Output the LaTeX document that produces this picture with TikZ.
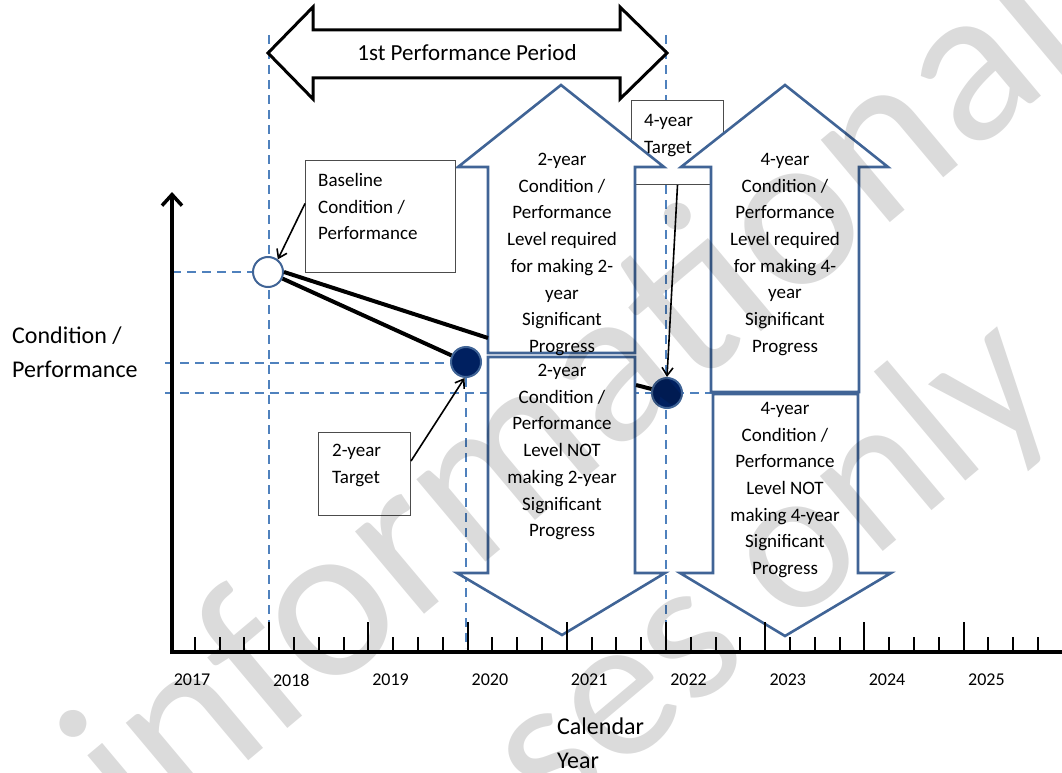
\documentclass[tikz,border=0pt]{standalone}
\usepackage{fontspec}
\setmainfont{Carlito}
\usepackage{xcolor}
\usepackage{tikz}
\usetikzlibrary{arrows,arrows.meta,positioning}

\definecolor{arrowblue}{RGB}{64,100,150}
\definecolor{dashblue}{RGB}{79,129,189}
\definecolor{dotnavy}{RGB}{0,32,96}

\tikzset{
	dashln/.style={dashblue, line width=1.6pt, dash pattern=on 9pt off 6pt},
	bigarrow/.style={draw=arrowblue, line width=2.6pt, fill=white, line join=miter},
	txtbox/.style={draw=black!70, line width=1pt, fill=white, inner sep=0pt},
	boxtext/.style={font=\fontsize{19}{26.7}\selectfont, align=left, inner sep=0pt},
	arrtext/.style={font=\fontsize{19}{26.7}\selectfont, align=center, inner sep=0pt},
	bigtext/.style={font=\fontsize{24}{34}\selectfont, align=left, inner sep=0pt},
	yeartext/.style={font=\fontsize{18}{20}\selectfont, inner sep=0pt},
	wmtext/.style={font=\fontsize{205}{205}\selectfont, text=black, text opacity=0.14, inner sep=0pt, rotate=40},
	tdot/.style={circle, draw=arrowblue, line width=2pt, fill=dotnavy, minimum size=30pt, inner sep=0pt},
	callout/.style={->, >={Straight Barb[length=8pt,width=11pt]}, line width=1.6pt},
	thickln/.style={line width=4pt},
}

\begin{document}
\begin{tikzpicture}[x=1pt,y=-1pt]
	\useasboundingbox (0,0) rectangle (1062,773);
	\clip (0,0) rectangle (1062,773);
	
	% Guides
	\draw[dashln] (269,35) -- (269,648);
	\draw[dashln] (666,35) -- (666,648);
	\draw[dashln] (466,378) -- (466,648);
	\draw[dashln] (172,272) -- (254,272);
	\draw[dashln] (165,363) -- (452,363);
	\draw[dashln] (165,393) -- (712,393);
	
	% 1st performance period
	\draw[line width=3pt, fill=white, line join=miter] (268,53) -- (313,7) -- (313,30) -- (620,30) -- (620,7) -- (667,53) -- (620,99) -- (620,78) -- (313,78) -- (313,99) -- cycle;
	\node[bigtext, font=\fontsize{23}{30}\selectfont] (period) at (467,53) {1st Performance Period};
	
	% 4-year target box (under the arrows)
	\node[txtbox, minimum width=92pt, minimum height=84pt, anchor=north west] (tgt4box) at (631,100) {};
	
	% 2-year arrows
	\draw[bigarrow] (488,353) -- (488,167) -- (458,167) -- (561,85) -- (664,167) -- (635,167) -- (635,353) -- cycle;
	\draw[bigarrow] (488,357) -- (635,357) -- (635,573) -- (665,573) -- (562,635) -- (457,573) -- (488,573) -- cycle;
	
	% 4-year arrows
	\draw[bigarrow] (711,392) -- (711,167) -- (681,167) -- (785,85) -- (888,167) -- (859,167) -- (859,392) -- cycle;
	\draw[bigarrow] (713,394) -- (858,394) -- (858,573) -- (891,573) -- (785,636) -- (680,573) -- (713,573) -- cycle;
	
	% Arrow texts
	\node[arrtext, anchor=north] (up2txt) at (562,153) {2-year\\Condition /\\Performance\\Level required\\for making 2-\\year\\Significant\\Progress};
	\node[arrtext, anchor=north] (down2txt) at (562,364) {2-year\\Condition /\\Performance\\Level NOT\\making 2-year\\Significant\\Progress};
	\node[arrtext, anchor=north] (up4txt) at (785,153) {4-year\\Condition /\\Performance\\Level required\\for making 4-\\year\\Significant\\Progress};
	\node[arrtext, anchor=north] (down4txt) at (785,402) {4-year\\Condition /\\Performance\\Level NOT\\making 4-year\\Significant\\Progress};
	\node[boxtext, anchor=north west] (tgt4txt) at (644,114) {4-year\\Target};
	
	% Boxes
	\node[txtbox, minimum width=150pt, minimum height=112pt, anchor=north west] (basebox) at (305,160) {};
	\node[boxtext, anchor=north west] (basetxt) at (318,173) {Baseline\\Condition /\\Performance};
	\node[txtbox, minimum width=92pt, minimum height=83pt, anchor=north west] (tgt2box) at (318,432) {};
	\node[boxtext, anchor=north west] (tgt2txt) at (332,444) {2-year\\Target};
	
	% Points
	\node[circle, draw=arrowblue, line width=2pt, fill=white, minimum size=30pt, inner sep=0pt] (base) at (268,272) {};
	\node[tdot] (dot2) at (466,362) {};
	\node[tdot] (dot4) at (667,393) {};
	
	% Progress lines
	\coordinate (up2edge) at (488,338);
	\coordinate (up2stem) at (636,385);
	\draw[thickln] (base.east) -- (up2edge);
	\draw[thickln] (base) -- (dot2);
	\draw[thickln] (up2stem) -- (dot4);
	
	% Callouts
	\draw[callout] ([yshift=13pt]basebox.west) -- (base.52);
	\draw[callout] ([yshift=13pt]tgt2box.east) -- (dot2.-95);
	\draw[callout] (tgt4box.south) -- (dot4.north);
	
	% Axes
	\draw[line width=3.5pt] (170,652) -- (1062,652);
	\draw[line width=3.5pt, ->, >={Straight Barb[length=11pt,width=20pt]}] (172,654) -- (172,192);
	\foreach \k in {1,...,9}
		\draw[line width=2pt] ({170+99.2*\k},652) -- ++(0,-30);
	\foreach \k in {0,...,8}
		\foreach \j in {1,2,3}
			\draw[line width=2pt] ({170+99.2*\k+24.8*\j},652) -- ++(0,-15);
	\foreach \yr [count=\k from 0] in {2017,...,2025}
		\node[yeartext] (yr\yr) at ({192+99.3*\k},680) {\yr};
	
	% Labels
	\node[bigtext, anchor=north west] (ylab) at (12,327) {Condition /\\Performance};
	\node[bigtext, anchor=north west] (xlab) at (557,718) {Calendar\\Year};
	
	% Watermark
	\node[wmtext, font=\fontsize{225}{225}\selectfont] (wm1) at (435,504) {For informational};
	\node[wmtext] (wm2) at (580,734) {purposes only};
\end{tikzpicture}
\end{document}
